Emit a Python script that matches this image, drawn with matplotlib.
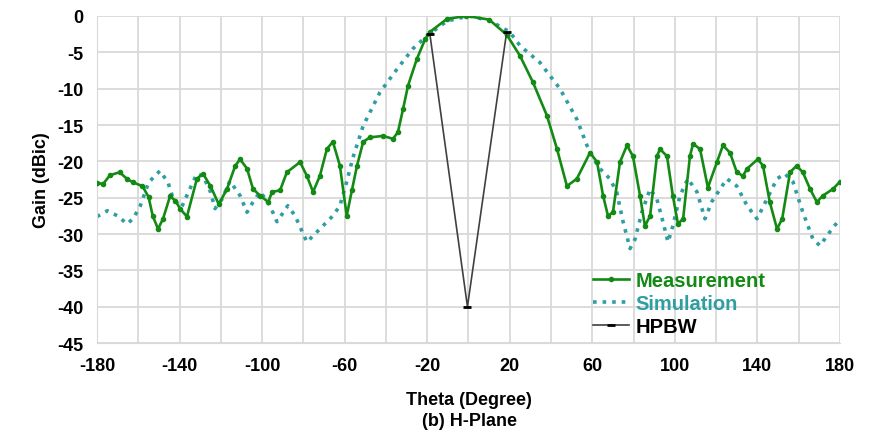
import matplotlib
matplotlib.use("Agg")
import matplotlib.pyplot as plt

# --- data ---
meas_theta = [-180, -177, -173.7, -169, -165.5, -162.5, -158, -155, -153, -150.4,
              -148, -144.6, -142, -139.8, -136.4, -131.6, -128.6, -125, -121, -117,
              -113, -110.7, -107.3, -104.4, -101, -97, -95.2, -91.3, -88, -81.6,
              -78.3, -75.3, -72, -68.6, -65.7, -62.3, -59, -56.5, -54, -51,
              -47.7, -41.4, -36.6, -34.2, -31.7, -29.3, -25, -21, -18.7, -10.4,
              -1, 10, 18.6, 25, 31.2, 38, 42.9, 47.7, 52.5, 58.9,
              62.3, 65.2, 67.6, 70, 73.4, 76.8, 79.7, 83.1, 85.5, 88,
              91.3, 92.8, 96.2, 99, 101.5, 104, 107.3, 108.8, 112.2, 116,
              120.4, 123.3, 126.7, 130, 133, 135, 140.2, 142.7, 146, 149.5,
              152, 155.8, 159, 162, 165.5, 168.8, 171.8, 176.6, 180]
meas_gain = [-23.0, -23.1, -21.9, -21.5, -22.4, -22.9, -23.4, -24.9, -27.5, -29.3,
             -27.9, -24.8, -25.4, -26.5, -27.6, -22.4, -21.7, -23.4, -25.9, -23.8,
             -20.6, -19.7, -21.0, -23.8, -24.7, -25.6, -24.2, -24.0, -21.5, -20.1,
             -22.0, -24.2, -22.0, -18.3, -17.3, -20.6, -27.5, -24.0, -20.6, -17.3,
             -16.7, -16.5, -16.9, -16.0, -12.8, -9.6, -5.9, -3.2, -2.2, -0.4,
             0.0, -0.5, -2.6, -5.5, -9.1, -13.7, -18.3, -23.4, -22.4, -18.8,
             -20.1, -24.7, -27.5, -27.0, -20.1, -17.8, -19.3, -24.7, -28.9, -27.5,
             -19.3, -18.3, -19.3, -24.7, -28.6, -27.9, -19.3, -17.6, -18.3, -23.6,
             -20.1, -17.8, -18.8, -21.5, -22.0, -21.0, -19.7, -20.6, -25.6, -29.3,
             -27.9, -21.5, -20.6, -21.5, -23.8, -25.6, -24.7, -23.8, -22.8]

sim_theta = [-180, -175, -170, -165.5, -162.5, -159, -155, -149.5, -145.6, -143,
             -139, -135, -131.6, -128.6, -125, -122.8, -119.4, -115.6, -110.7, -107.3,
             -104.4, -101, -97, -92.8, -87.5, -84, -78.3, -72, -65.7, -62.3,
             -59, -56, -51, -42.9, -34.6, -26.9, -20, -10.4, 0, 10,
             20, 25, 34.6, 44.3, 52.5, 57.4, 60, 63.7, 68.5, 71.8,
             74.9, 78.3, 80.7, 84, 88, 91.3, 94.2, 96.7, 99, 102.5,
             106.3, 110.7, 114.6, 118, 125.2, 130, 135, 139.8, 144.6, 149.5,
             153.3, 157.2, 162, 166.9, 170.3, 175.1, 180]
sim_gain = [-27.6, -26.8, -27.5, -28.6, -27.9, -26.1, -22.9, -21.3, -22.9, -25.2,
            -26.3, -23.8, -21.7, -22.0, -24.2, -26.5, -25.2, -22.7, -24.7, -27.0,
            -25.6, -24.2, -25.6, -28.3, -26.1, -27.5, -31.1, -29.3, -27.5, -26.1,
            -22.8, -19.5, -15.1, -10.5, -7.3, -4.5, -2.7, -0.7, 0.0, -0.6,
            -2.2, -4.1, -6.4, -10.0, -14.2, -17.8, -19.4, -21.0, -22.4, -24.2,
            -28.3, -32.0, -30.7, -27.0, -23.8, -25.2, -28.3, -31.1, -28.9, -24.7,
            -22.4, -24.2, -27.9, -25.5, -22.4, -23.4, -26.1, -27.9, -25.2, -22.4,
            -21.7, -22.8, -27.0, -30.7, -31.6, -29.7, -27.9]

hpbw_theta = [-18.7, -0.5, 18.5]
hpbw_gain = [-2.5, -40.0, -2.2]

x_ticks = list(range(-180, 181, 40))
y_ticks = list(range(-45, 1, 5))

green = "#138a13"
teal = "#2f9ea3"

plt.rcParams['font.family'] = ['Liberation Sans', 'DejaVu Sans']

fig = plt.figure(figsize=(8.69, 4.35), dpi=100)
ax = fig.add_axes([0.1116, 0.209, 0.855, 0.752])

ax.plot(sim_theta, sim_gain, color=teal, ls=':', lw=2.6, zorder=2,
        label='Simulation')
ax.plot(meas_theta, meas_gain, color=green, lw=1.9, marker='o', ms=3,
        zorder=3, label='Measurement')
ax.plot(hpbw_theta, hpbw_gain, color='#404040', lw=1.2, marker='_', ms=6,
        mec='black', mew=2, zorder=4, label='HPBW')

ax.set_xlim(-180, 180)
ax.set_ylim(-45, 0)
ax.set_xticks(list(range(-180, 181, 20)))
ax.set_xticklabels([str(t) if t in x_ticks else '' for t in range(-180, 181, 20)])
ax.set_yticks(y_ticks)
ax.set_yticklabels([str(t) for t in y_ticks])
ax.tick_params(length=0, labelsize=13, pad=10)
for lab in ax.get_xticklabels() + ax.get_yticklabels():
    lab.set_fontweight('bold')

ax.grid(True, color='#d9d9d9', lw=1.3)
ax.set_axisbelow(True)
for s in ax.spines.values():
    s.set_visible(False)
ax.spines['left'].set_visible(True)
ax.spines['bottom'].set_visible(True)
ax.spines['left'].set_color('#d9d9d9')
ax.spines['bottom'].set_color('#d9d9d9')

ax.set_ylabel('Gain (dBic)', fontsize=13, fontweight='bold', labelpad=5)
fig.text(0.54, 0.08, 'Theta (Degree)', ha='center', va='center', fontsize=13, fontweight='bold')
fig.text(0.54, 0.032, '(b) H-Plane', ha='center', va='center', fontsize=13, fontweight='bold')

h, l = ax.get_legend_handles_labels()
order = [1, 0, 2]
leg = ax.legend([h[i] for i in order], [l[i] for i in order], loc='upper left',
                bbox_to_anchor=(0.643, 0.275), frameon=False, handlelength=1.8,
                handletextpad=0.3, labelspacing=0.2, prop={'weight': 'bold', 'size': 14.5})
for txt, c in zip(leg.get_texts(), [green, teal, 'black']):
    txt.set_color(c)

fig.savefig('out.png', dpi=100)
